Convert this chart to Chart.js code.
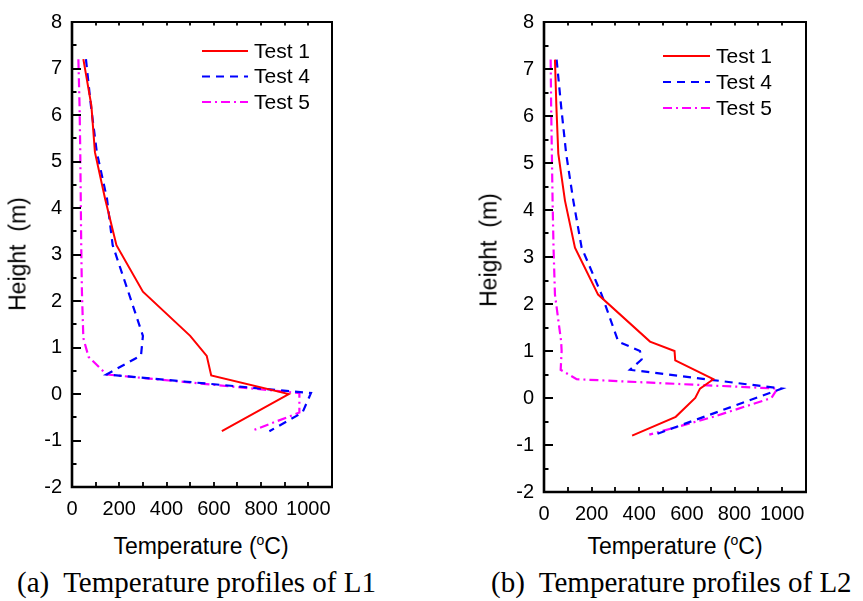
<!DOCTYPE html>
<html>
<head>
<meta charset="utf-8">
<script src="https://cdn.jsdelivr.net/npm/chart.js@4.4.0/dist/chart.umd.min.js"></script>
<style>
  body { margin: 0; background: #fff; width: 863px; height: 601px; position: relative; overflow: hidden;
         font-family: "Liberation Sans", Arial, sans-serif; color: #000; }
  .panel { position: absolute; top: 0; }
  #boxL { left: 0; width: 345px; height: 520px; }
  #boxR { left: 430px; width: 390px; height: 525px; }
  .ytitle { position: absolute; font-size: 23px; line-height: 23px; white-space: pre;
            transform: translate(-50%, -50%) rotate(-90deg); }
  .xtitle { position: absolute; font-size: 23px; line-height: 23px; white-space: nowrap; transform: translateX(-50%); }
  .xtitle sup { font-size: 14px; vertical-align: 9px; line-height: 0; }
  .caption { position: absolute; font-family: "Liberation Serif", "Times New Roman", serif; font-size: 29px;
             line-height: 29px; white-space: pre; }
</style>
</head>
<body>
<div class="panel" id="boxL"><canvas id="chartL"></canvas></div>
<div class="panel" id="boxR"><canvas id="chartR"></canvas></div>

<div class="ytitle" style="left:18px; top:254px;">Height  (m)</div>
<div class="ytitle" style="left:489px; top:250px;">Height  (m)</div>
<div class="xtitle" style="left:201px; top:535px;">Temperature (<sup>o</sup>C)</div>
<div class="xtitle" style="left:675px; top:535px;">Temperature (<sup>o</sup>C)</div>
<div class="caption" style="left:17px; top:568px;">(a)  Temperature profiles of L1</div>
<div class="caption" style="left:491px; top:568px;">(b)  Temperature profiles of L2</div>

<script>
// --- datos: temperatura (°C) y altura (m) ---
const seriesLabels = ['Test 1', 'Test 4', 'Test 5'];

// L1
const l1Test1T = [48, 82, 97, 140, 188, 300, 500, 570, 589, 917, 634];
const l1Test1H = [7.2, 6.2, 5.2, 4.2, 3.2, 2.2, 1.25, 0.82, 0.4, 0, -0.8];
const l1Test4T = [59, 80, 105, 148, 172, 238, 300, 292, 146, 1011, 975, 835];
const l1Test4H = [7.2, 6.2, 5.2, 4.2, 3.2, 2.2, 1.25, 0.83, 0.42, 0.02, -0.4, -0.8];
const l1Test5T = [27, 32, 35, 37, 39, 42, 48, 70, 146, 962, 962, 772];
const l1Test5H = [7.2, 6.2, 5.2, 4.2, 3.2, 2.2, 1.2, 0.8, 0.42, 0.02, -0.4, -0.77];

// L2
const l2Test1T = [46, 52, 60, 88, 130, 227, 445, 548, 551, 711, 655, 635, 553, 370];
const l2Test1H = [7.2, 6.2, 5.2, 4.2, 3.2, 2.2, 1.2, 1.0, 0.8, 0.4, 0.2, 0, -0.4, -0.8];
const l2Test4T = [53, 72, 93, 123, 158, 242, 312, 403, 410, 361, 999, 465];
const l2Test4H = [7.2, 6.2, 5.2, 4.2, 3.2, 2.2, 1.2, 1.0, 0.82, 0.6, 0.2, -0.78];
const l2Test5T = [28, 30, 33, 36, 40, 46, 72, 74, 70, 137, 980, 955, 711, 442];
const l2Test5H = [7.2, 6.2, 5.2, 4.2, 3.2, 2.2, 1.2, 1.0, 0.6, 0.4, 0.2, 0, -0.4, -0.78];

// ejes
const xMin = 0, xMax = 1100, xStep = 200, xMinorStep = 100;
const yMin = -2, yMax = 8, yStep = 1, yMinorStep = 0.5;

const lineColors = ['#ff0000', '#0000ff', '#ff00ff'];
const lineDashes = [[], [8, 6], [9, 4, 2, 4]];
const lineWidths = [2, 2.2, 2.2];
const FONT = '"Liberation Sans", Arial, sans-serif';

// marco y marcas hacia dentro (estilo Origin)
const frameTicks = {
    id: 'frameTicks',
    afterDatasetsDraw(chart) {
        const { ctx, chartArea: a, scales: { x, y } } = chart;
        ctx.save();
        ctx.strokeStyle = '#000';
        ctx.setLineDash([]);
        // ticks eje Y (izquierda)
        ctx.lineWidth = 2;
        for (let v = yMin; v <= yMax + 1e-9; v += yMinorStep) {
            const py = Math.round(y.getPixelForValue(v));
            const major = Math.abs(v - Math.round(v)) < 1e-6;
            ctx.beginPath();
            ctx.moveTo(a.left, py);
            ctx.lineTo(a.left + (major ? 9 : 4.5), py);
            ctx.stroke();
        }
        // ticks eje X (abajo y arriba)
        ctx.lineWidth = 1.8;
        for (let v = xMin + xMinorStep; v < xMax; v += xMinorStep) {
            const px = Math.round(x.getPixelForValue(v));
            ctx.beginPath();
            ctx.moveTo(px, a.bottom);
            ctx.lineTo(px, a.bottom - 5);
            ctx.moveTo(px, a.top);
            ctx.lineTo(px, a.top + 3.5);
            ctx.stroke();
        }
        // marco
        ctx.lineWidth = 2;
        ctx.beginPath();
        ctx.moveTo(a.left, a.top);
        ctx.lineTo(a.right, a.top);
        ctx.lineTo(a.right, a.bottom);
        ctx.stroke();
        ctx.lineWidth = 2.6;
        ctx.beginPath();
        ctx.moveTo(a.left, a.top - 1);
        ctx.lineTo(a.left, a.bottom);
        ctx.lineTo(a.right + 1, a.bottom);
        ctx.stroke();
        ctx.restore();
    }
};

// leyenda dibujada dentro del área del gráfico
const seriesKey = {
    id: 'seriesKey',
    afterDatasetsDraw(chart, args, opts) {
        const { ctx } = chart;
        ctx.save();
        ctx.font = '21px ' + FONT;
        ctx.textBaseline = 'middle';
        ctx.fillStyle = '#000';
        chart.data.datasets.forEach((ds, i) => {
            const yy = opts.y + i * opts.gap;
            ctx.strokeStyle = ds.borderColor;
            ctx.lineWidth = ds.borderWidth;
            ctx.setLineDash(ds.borderDash || []);
            ctx.beginPath();
            ctx.moveTo(opts.x, yy);
            ctx.lineTo(opts.x + opts.len, yy);
            ctx.stroke();
            ctx.setLineDash([]);
            ctx.fillText(ds.label, opts.x + opts.len + 6, yy + 1);
        });
        ctx.restore();
    }
};

function buildDatasets(Ts, Hs) {
    return Ts.map((T, i) => ({
        label: seriesLabels[i],
        data: T.map((t, k) => ({ x: t, y: Hs[i][k] })),
        showLine: true,
        borderColor: lineColors[i],
        borderDash: lineDashes[i],
        borderWidth: lineWidths[i],
        pointRadius: 0,
        tension: 0,
        fill: false
    }));
}

function makeChart(canvasId, datasets, cfg) {
    return new Chart(document.getElementById(canvasId), {
        type: 'scatter',
        data: { datasets: datasets },
        options: {
            responsive: true,
            maintainAspectRatio: false,
            animation: false,
            layout: { padding: { top: 14, right: cfg.padRight, left: 0, bottom: 0 } },
            plugins: {
                legend: { display: false },
                tooltip: { enabled: false },
                seriesKey: cfg.key
            },
            scales: {
                x: {
                    type: 'linear', min: xMin, max: xMax,
                    grid: { display: false, drawTicks: false },
                    border: { display: false },
                    ticks: { stepSize: xStep, includeBounds: false, padding: 10, maxRotation: 0,
                             color: '#000', font: { size: 20, family: FONT },
                             callback: v => String(v) },
                    afterFit: s => { s.height = cfg.xHeight; }
                },
                y: {
                    type: 'linear', min: yMin, max: yMax,
                    grid: { display: false, drawTicks: false },
                    border: { display: false },
                    ticks: { stepSize: yStep, padding: 10, color: '#000', font: { size: 20, family: FONT },
                             callback: v => String(v) },
                    afterFit: s => { s.width = cfg.yWidth; }
                }
            }
        },
        plugins: [frameTicks, seriesKey]
    });
}

makeChart('chartL',
    buildDatasets([l1Test1T, l1Test4T, l1Test5T], [l1Test1H, l1Test4H, l1Test5H]),
    { padRight: 13, xHeight: 33, yWidth: 72, key: { x: 202, y: 51, gap: 25.5, len: 46 } });

makeChart('chartR',
    buildDatasets([l2Test1T, l2Test4T, l2Test5T], [l2Test1H, l2Test4H, l2Test5H]),
    { padRight: 14, xHeight: 33, yWidth: 114, key: { x: 233, y: 56, gap: 26, len: 47 } });
</script>
</body>
</html>
